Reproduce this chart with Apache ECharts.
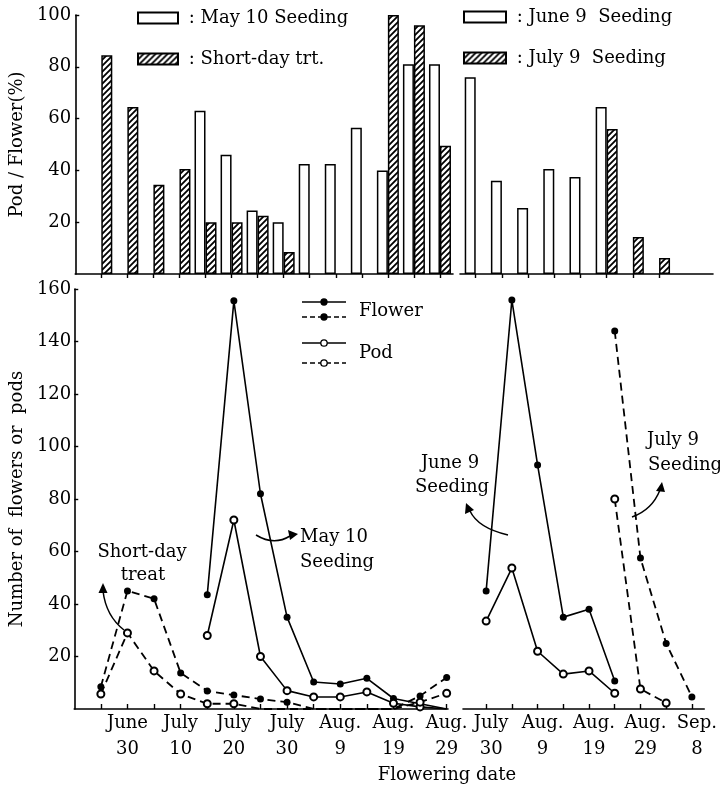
<!DOCTYPE html>
<html>
<head>
<meta charset="utf-8">
<title>Pod / Flower</title>
<script src="https://cdn.jsdelivr.net/npm/echarts@6/dist/echarts.min.js"></script>
<style>
html, body { margin: 0; padding: 0; background: #fff; }
#main { width: 720px; height: 789px; }
</style>
</head>
<body>
<div id="main"></div>
<script>
// upper panel: pod / flower (%)
var topLeftDates = ['6/25', '6/30', '7/5', '7/10', '7/15', '7/20', '7/25', '7/30', '8/4', '8/9', '8/14', '8/19', '8/24', '8/29'];
var may10Ratio = [null, null, null, null, 63, 46, 24.5, 20, 42.5, 42.5, 56.5, 40, 81, 81];
var shortDayRatio = [84.5, 64.5, 34.5, 40.5, 20, 20, 22.5, 8.5, null, null, null, 100, 96, 49.5];

var topRightDates = ['7/30', '8/4', '8/9', '8/14', '8/19', '8/24', '8/29', '9/3'];
var june9Ratio = [76, 36, 25.5, 40.5, 37.5, 64.5, null, null];
var july9Ratio = [null, null, null, null, null, 56, 14.3, 6.2];

// lower panel: number of flowers or pods
var bottomLeftDates = ['6/25', '6/30', '7/5', '7/10', '7/15', '7/20', '7/25', '7/30', '8/4', '8/9', '8/14', '8/19', '8/24', '8/29'];
var may10Flower = [null, null, null, null, 43.5, 155.5, 82, 35, 10.3, 9.5, 11.7, 4, 2, 0];
var may10Pod = [null, null, null, null, 28, 72, 20, 7, 4.6, 4.6, 6.5, 2.2, 0.8, 0];
var shortDayFlower = [8.5, 45, 42, 13.7, 6.9, 5.3, 3.8, 2.6, 0, 0, 0, 0, 5, 12];
var shortDayPod = [5.7, 29, 14.5, 5.7, 2, 2, 0, 0, 0, 0, 0, 0, 2.6, 6];

var bottomRightDates = ['7/30', '8/4', '8/9', '8/14', '8/19', '8/24', '8/29', '9/3', '9/8'];
var june9Flower = [45, 155.8, 93, 35, 38, 10.7, null, null, null];
var june9Pod = [33.5, 53.7, 22, 13.3, 14.5, 6, null, null, null];
var july9Flower = [null, null, null, null, null, 144, 57.5, 25, 4.6];
var july9Pod = [null, null, null, null, null, 80, 7.6, 2.3, null];

// x axis labels
var bottomLeftLabels = ['6/30', '7/10', '7/20', '7/30', '8/9', '8/19', '8/29'];
var bottomRightLabels = ['7/30', '8/9', '8/19', '8/29', '9/8'];

var monthStart = { 6: 151, 7: 181, 8: 212, 9: 243 };
var monthName = { 6: 'June', 7: 'July', 8: 'Aug.', 9: 'Sep.' };
var FONT = '"DejaVu Serif", "Liberation Serif", serif';

function dayOf(s) {
    var p = s.split('/');
    return monthStart[+p[0]] + (+p[1]);
}

function pairs(dates, values) {
    var out = [];
    for (var i = 0; i < dates.length; i++) {
        if (values[i] != null) out.push([dayOf(dates[i]), values[i]]);
    }
    return out;
}

function dateLabel(v) {
    for (var m = 9; m >= 6; m--) {
        if (v > monthStart[m]) return monthName[m] + '\n' + (v - monthStart[m]);
    }
    return '';
}

function makeHatch() {
    var c = document.createElement('canvas');
    c.width = 6;
    c.height = 6;
    var g = c.getContext('2d');
    g.fillStyle = '#fff';
    g.fillRect(0, 0, 6, 6);
    g.strokeStyle = '#000';
    g.lineWidth = 1.8;
    g.beginPath();
    g.moveTo(0, 6); g.lineTo(6, 0);
    g.moveTo(-1, 1); g.lineTo(1, -1);
    g.moveTo(5, 7); g.lineTo(7, 5);
    g.stroke();
    return c;
}

var hatch = { image: makeHatch(), repeat: 'repeat' };
var axisLine = { lineStyle: { color: '#000', width: 1.6 } };
var labelStyle = { color: '#000', fontFamily: FONT, fontSize: 18 };

function topX(grid, min, max, dates) {
    return {
        type: 'value', gridIndex: grid, min: min, max: max,
        axisLine: axisLine, splitLine: { show: false },
        axisTick: { customValues: dates.map(dayOf), length: 4, lineStyle: { color: '#000', width: 1.4 } },
        axisLabel: { show: false }
    };
}

function bottomX(grid, min, max, dates, labels, pad) {
    return {
        type: 'value', gridIndex: grid, min: min, max: max,
        axisLine: axisLine, splitLine: { show: false },
        axisTick: { customValues: dates.map(dayOf), inside: true, length: 5, lineStyle: { color: '#000', width: 1.4 } },
        axisLabel: {
            customValues: labels.map(dayOf), formatter: dateLabel, margin: 1,
            lineHeight: 26, padding: [0, 0, 0, pad], color: '#000', fontFamily: FONT, fontSize: 18
        }
    };
}

function barSeries(name, grid, dates, values, color) {
    return {
        name: name, type: 'bar', xAxisIndex: grid, yAxisIndex: grid,
        data: pairs(dates, values), barWidth: 11, barGap: '0%',
        itemStyle: { color: color, borderColor: '#000', borderWidth: 1.5 },
        animation: false
    };
}

function lineSeries(grid, dates, values, dashed, open) {
    return {
        type: 'line', xAxisIndex: grid, yAxisIndex: grid,
        data: pairs(dates, values),
        symbol: function(v) { return v[1] === 0 ? 'none' : (open ? 'emptyCircle' : 'circle'); },
        symbolSize: 7,
        lineStyle: { color: '#000', width: dashed ? 1.8 : 1.6, type: dashed ? [8, 5] : 'solid' },
        itemStyle: { color: '#000', borderWidth: 1.4 },
        animation: false
    };
}

function legendLine(y, dashed, open) {
    return [{
        type: 'line', shape: { x1: 302, y1: y, x2: 346, y2: y },
        style: { stroke: '#000', lineWidth: 1.6, lineDash: dashed ? [5, 3] : null }
    }, {
        type: 'circle', shape: { cx: 324, cy: y, r: open ? 3.2 : 3 },
        style: { fill: open ? '#fff' : '#000', stroke: '#000', lineWidth: 1.3 }
    }];
}

function label(text, x, y, align) {
    return {
        type: 'text', x: x, y: y,
        style: { text: text, font: '18px ' + FONT, fill: '#000', align: align || 'center', verticalAlign: 'middle' }
    };
}

function arrow(x1, y1, cx, cy, x2, y2, head) {
    return [{
        type: 'bezierCurve', shape: { x1: x1, y1: y1, cpx1: cx, cpy1: cy, x2: x2, y2: y2 },
        style: { stroke: '#000', lineWidth: 1.5, fill: null }
    }, {
        type: 'polygon', shape: { points: head }, style: { fill: '#000' }
    }];
}

var graphics = []
    .concat(legendLine(302, false, false))
    .concat(legendLine(317, true, false))
    .concat(legendLine(343, false, true))
    .concat(legendLine(363, true, true))
    .concat([
        label('Flower', 359, 311, 'left'),
        label('Pod', 359, 353, 'left'),
        label('Short-day', 142, 552),
        label('treat', 143, 575),
        label('May 10', 300, 537, 'left'),
        label('Seeding', 300, 562, 'left'),
        label('June 9', 450, 463),
        label('Seeding', 452, 487),
        label('July 9', 647, 440, 'left'),
        label('Seeding', 648, 465, 'left'),
        label('Flowering date', 447, 775)
    ])
    .concat(arrow(124, 630, 106, 616, 103, 591, [[103, 583], [98.5, 593], [107.5, 593]]))
    .concat(arrow(256, 535, 274, 546, 290, 536, [[298, 534], [288, 530], [290, 540]]))
    .concat(arrow(508, 535, 478, 528, 470, 511, [[466, 503], [465, 514], [474, 510]]))
    .concat(arrow(632, 517, 652, 510, 660, 490, [[662, 482], [656, 491], [665, 492]]));

var chart = echarts.init(document.getElementById('main'));
chart.setOption({
    backgroundColor: '#fff',
    animation: false,
    textStyle: { fontFamily: FONT },
    legend: [{
        data: ['May 10 Seeding', 'Short-day trt.'],
        left: 132, top: 3, orient: 'vertical', icon: 'rect',
        itemWidth: 40, itemHeight: 11, itemGap: 21, selectedMode: false,
        formatter: ' : {name}', textStyle: { color: '#000', fontFamily: FONT, fontSize: 18, lineHeight: 20 }
    }, {
        data: ['June 9  Seeding', 'July 9  Seeding'],
        left: 458, top: 2, orient: 'vertical', icon: 'rect',
        itemWidth: 42, itemHeight: 11, itemGap: 21, selectedMode: false,
        formatter: ' : {name}', textStyle: { color: '#000', fontFamily: FONT, fontSize: 18, lineHeight: 20 }
    }],
    grid: [
        { left: 72, top: 15, width: 381, height: 259 },
        { left: 460, top: 15, width: 253, height: 259 },
        { left: 73, top: 289, width: 375, height: 420 },
        { left: 463, top: 289, width: 250, height: 420 }
    ],
    xAxis: [
        topX(0, 171, 243.5, topLeftDates),
        topX(1, 208, 256.3, topRightDates),
        bottomX(2, 171, 241.25, bottomLeftDates, bottomLeftLabels, 0),
        bottomX(3, 206.5, 253.4, bottomRightDates, bottomRightLabels, 10)
    ],
    yAxis: [{
        type: 'value', gridIndex: 0, min: 0, max: 100, interval: 20,
        name: 'Pod / Flower(%)', nameLocation: 'middle', nameGap: 42,
        nameTextStyle: labelStyle,
        axisLine: { show: true, lineStyle: { color: '#000', width: 1.6 } },
        axisTick: { inside: true, length: 4, lineStyle: { color: '#000', width: 1.4 } },
        axisLabel: { showMinLabel: false, margin: 4, color: '#000', fontFamily: FONT, fontSize: 18 },
        splitLine: { show: false }
    }, {
        type: 'value', gridIndex: 1, min: 0, max: 100, show: false
    }, {
        type: 'value', gridIndex: 2, min: 0, max: 160, interval: 20,
        name: 'Number of  flowers or  pods', nameLocation: 'middle', nameGap: 46,
        nameTextStyle: labelStyle,
        axisLine: { show: true, lineStyle: { color: '#000', width: 1.6 } },
        axisTick: { inside: true, length: 4, lineStyle: { color: '#000', width: 1.4 } },
        axisLabel: { showMinLabel: false, margin: 3, color: '#000', fontFamily: FONT, fontSize: 18 },
        splitLine: { show: false }
    }, {
        type: 'value', gridIndex: 3, min: 0, max: 160, show: false
    }],
    series: [
        barSeries('May 10 Seeding', 0, topLeftDates, may10Ratio, '#fff'),
        barSeries('Short-day trt.', 0, topLeftDates, shortDayRatio, hatch),
        barSeries('June 9  Seeding', 1, topRightDates, june9Ratio, '#fff'),
        barSeries('July 9  Seeding', 1, topRightDates, july9Ratio, hatch),
        lineSeries(2, bottomLeftDates, may10Flower, false, false),
        lineSeries(2, bottomLeftDates, may10Pod, false, true),
        lineSeries(2, bottomLeftDates, shortDayFlower, true, false),
        lineSeries(2, bottomLeftDates, shortDayPod, true, true),
        lineSeries(3, bottomRightDates, june9Flower, false, false),
        lineSeries(3, bottomRightDates, june9Pod, false, true),
        lineSeries(3, bottomRightDates, july9Flower, true, false),
        lineSeries(3, bottomRightDates, july9Pod, true, true)
    ],
    graphic: graphics
});
</script>
</body>
</html>
